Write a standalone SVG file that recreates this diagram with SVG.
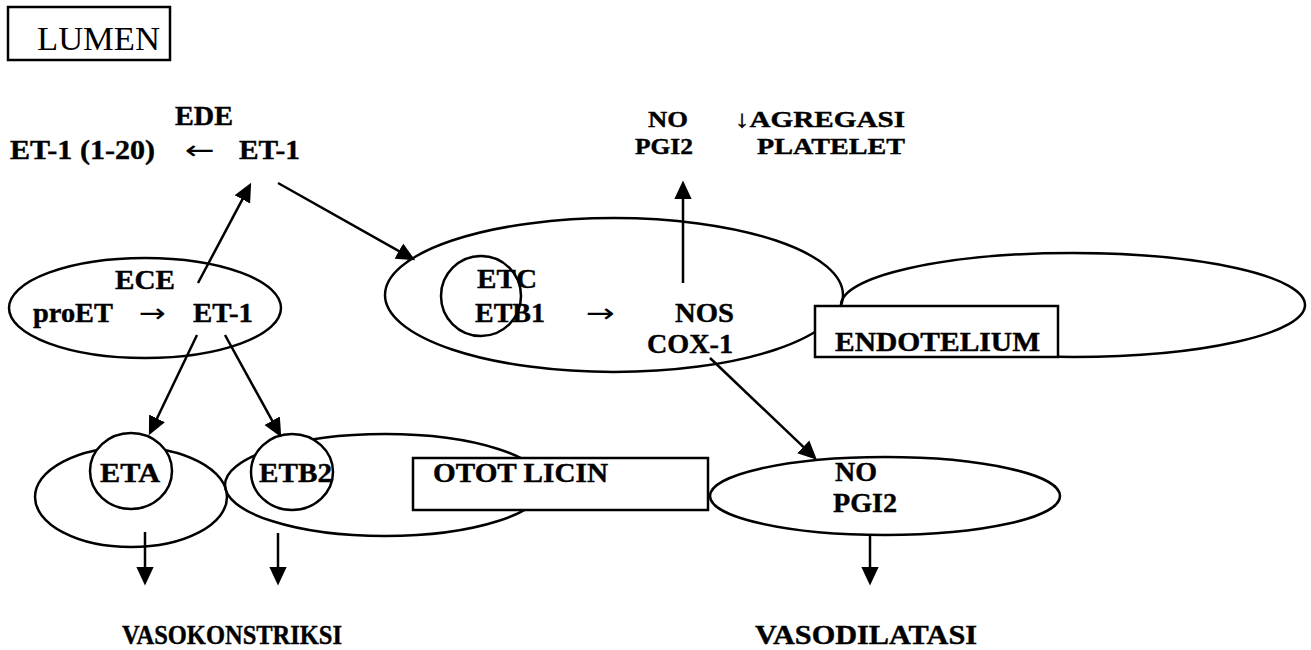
<svg xmlns="http://www.w3.org/2000/svg" width="1311" height="650" viewBox="0 0 1311 650">
<style>
.s{fill:none;stroke:#000;stroke-width:2.5}
.w{fill:#fff;stroke:#000;stroke-width:2.5}
.t{font-family:"Liberation Serif","Times New Roman",serif;font-weight:bold;font-size:27px;fill:#000;stroke:#000;stroke-width:0.4}
.k{font-size:24px}
.a{font-family:"DejaVu Sans","Liberation Serif",sans-serif;font-size:26px;fill:#000}
.r{font-family:"Liberation Serif","Times New Roman",serif;font-size:34px;fill:#000}
.c{fill:none;stroke:#000;stroke-width:2.5}
</style>
<defs>
<marker id="ah" markerUnits="userSpaceOnUse" markerWidth="20" markerHeight="20" viewBox="0 -8 16 16" refX="5" refY="0" orient="auto">
<path d="M0,-7 L15,0 L0,7 z" fill="#000"/>
</marker>
</defs>
<rect width="1311" height="650" fill="#fff"/>

<g id="lumen">
<rect x="8" y="7" width="162" height="53" class="s"/>
<text x="37" y="50" class="r" textLength="123" lengthAdjust="spacingAndGlyphs">LUMEN</text>
</g>

<g id="ede">
<text x="175" y="125" class="t" textLength="58" lengthAdjust="spacingAndGlyphs">EDE</text>
<text x="10" y="159" class="t" textLength="145" lengthAdjust="spacingAndGlyphs">ET-1 (1-20)</text>
<text x="185" y="159" class="a" textLength="30" lengthAdjust="spacingAndGlyphs">←</text>
<text x="239" y="159" class="t" textLength="61" lengthAdjust="spacingAndGlyphs">ET-1</text>
</g>

<g id="ece">
<ellipse cx="145" cy="308" rx="136" ry="50" class="s"/>
<text x="115" y="289" class="t" textLength="60" lengthAdjust="spacingAndGlyphs">ECE</text>
<text x="33" y="322" class="t" textLength="80" lengthAdjust="spacingAndGlyphs">proET</text>
<text x="139" y="322" class="a" textLength="27" lengthAdjust="spacingAndGlyphs">→</text>
<text x="193" y="322" class="t" textLength="60" lengthAdjust="spacingAndGlyphs">ET-1</text>
</g>

<g id="no-top">
<text x="648" y="127" class="t k" textLength="40" lengthAdjust="spacingAndGlyphs">NO</text>
<text x="635" y="154" class="t k" textLength="58" lengthAdjust="spacingAndGlyphs">PGI2</text>
<text x="735" y="127" class="t k" textLength="170" lengthAdjust="spacingAndGlyphs">↓AGREGASI</text>
<text x="757" y="154" class="t k" textLength="148" lengthAdjust="spacingAndGlyphs">PLATELET</text>
</g>

<g id="endotelium">
<ellipse cx="614" cy="295" rx="229" ry="77" class="s"/>
<ellipse cx="1073" cy="305" rx="232" ry="52" class="s"/>
<rect x="815" y="306" width="243" height="51" class="w"/>
<text x="835" y="351" class="t" textLength="205" lengthAdjust="spacingAndGlyphs">ENDOTELIUM</text>
</g>

<g id="etc">
<circle cx="481" cy="296" r="40" class="s"/>
<text x="477" y="288" class="t" textLength="60" lengthAdjust="spacingAndGlyphs">ETC</text>
<text x="475" y="322" class="t" textLength="70" lengthAdjust="spacingAndGlyphs">ETB1</text>
<text x="586" y="322" class="a" textLength="29" lengthAdjust="spacingAndGlyphs">→</text>
</g>

<g id="nos">
<text x="675" y="322" class="t" textLength="59" lengthAdjust="spacingAndGlyphs">NOS</text>
<text x="647" y="353" class="t" textLength="86" lengthAdjust="spacingAndGlyphs">COX-1</text>
</g>

<g id="eta">
<ellipse cx="131" cy="497" rx="96" ry="50" class="s"/>
<ellipse cx="131" cy="471" rx="41" ry="38" class="w"/>
<text x="100" y="482" class="t" textLength="60" lengthAdjust="spacingAndGlyphs">ETA</text>
</g>

<g id="otot-licin">
<ellipse cx="385" cy="485" rx="160" ry="51" class="s"/>
<ellipse cx="292" cy="472" rx="41" ry="38" class="w"/>
<text x="259" y="482" class="t" textLength="73" lengthAdjust="spacingAndGlyphs">ETB2</text>
<rect x="413" y="458" width="295" height="52" class="w"/>
<text x="433" y="482" class="t" textLength="175" lengthAdjust="spacingAndGlyphs">OTOT LICIN</text>
</g>

<g id="no-bottom">
<ellipse cx="885" cy="496" rx="175" ry="39" class="s"/>
<text x="835" y="481" class="t" textLength="42" lengthAdjust="spacingAndGlyphs">NO</text>
<text x="833" y="512" class="t" textLength="64" lengthAdjust="spacingAndGlyphs">PGI2</text>
</g>

<g id="vasokonstriksi">
<text x="122" y="644" class="t" textLength="220" lengthAdjust="spacingAndGlyphs">VASOKONSTRIKSI</text>
</g>
<g id="vasodilatasi">
<text x="755" y="644" class="t" textLength="222" lengthAdjust="spacingAndGlyphs">VASODILATASI</text>
</g>

<g id="connectors" class="c" marker-end="url(#ah)">
<line x1="198" y1="283" x2="245.3" y2="193.8"/>
<line x1="278" y1="183" x2="404.3" y2="254.1"/>
<line x1="683" y1="283" x2="683" y2="193"/>
<line x1="710" y1="358" x2="807.8" y2="451.1"/>
<line x1="197" y1="335" x2="154.3" y2="424"/>
<line x1="225" y1="335" x2="275.2" y2="426.2"/>
<line x1="145" y1="532" x2="145" y2="573"/>
<line x1="278" y1="533" x2="278" y2="573"/>
<line x1="870" y1="535" x2="870" y2="573"/>
</g>
</svg>
